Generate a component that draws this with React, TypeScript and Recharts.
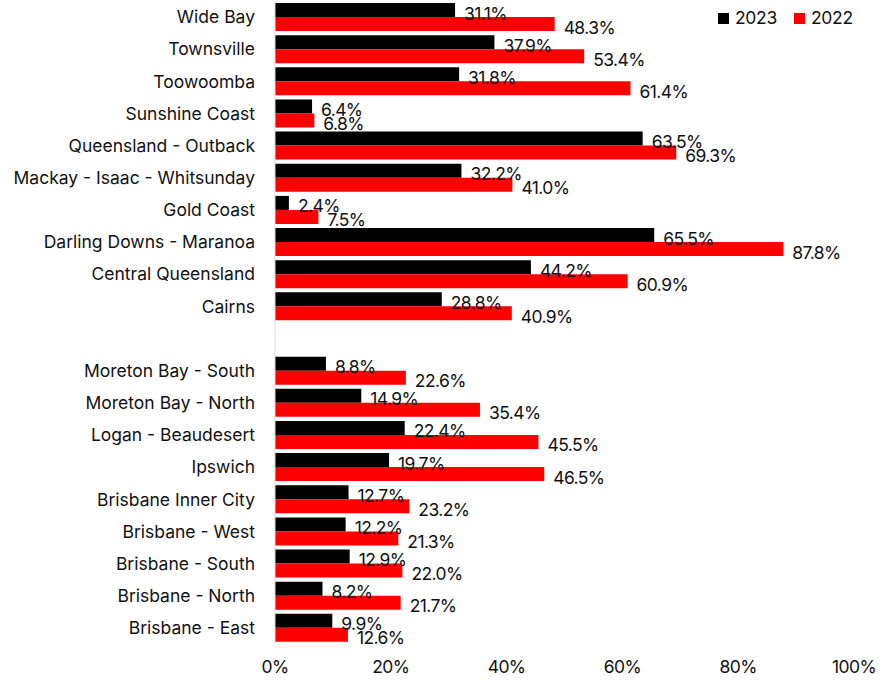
import { BarChart, Bar, XAxis, YAxis, LabelList } from 'recharts'

const regions = [
  'Wide Bay',
  'Townsville',
  'Toowoomba',
  'Sunshine Coast',
  'Queensland - Outback',
  'Mackay - Isaac - Whitsunday',
  'Gold Coast',
  'Darling Downs - Maranoa',
  'Central Queensland',
  'Cairns',
  '',
  'Moreton Bay - South',
  'Moreton Bay - North',
  'Logan - Beaudesert',
  'Ipswich',
  'Brisbane Inner City',
  'Brisbane - West',
  'Brisbane - South',
  'Brisbane - North',
  'Brisbane - East',
]

const values2023 = [
  31.1, 37.9, 31.8, 6.4, 63.5, 32.2, 2.4, 65.5, 44.2, 28.8, null,
  8.8, 14.9, 22.4, 19.7, 12.7, 12.2, 12.9, 8.2, 9.9,
]

const values2022 = [
  48.3, 53.4, 61.4, 6.8, 69.3, 41.0, 7.5, 87.8, 60.9, 40.9, null,
  22.6, 35.4, 45.5, 46.5, 23.2, 21.3, 22.0, 21.7, 12.6,
]

const xTicks = [0, 20, 40, 60, 80, 100]

const legendItems = [
  { label: '2023', color: '#000000' },
  { label: '2022', color: '#ff0000' },
]

const FONT = 'Inter, "Noto Sans", sans-serif'
const FS = 17.5

const chartData = regions.map((name, i) => ({
  name,
  y2023: values2023[i],
  y2022: values2022[i],
}))

function ValueLabel(props: any) {
  const { x, y, width, height, value } = props
  if (value == null) return null
  return (
    <text
      x={x + width + 9}
      y={y + height / 2 + 3}
      dominantBaseline="central"
      fontSize={FS}
      fontFamily={FONT}
      letterSpacing={-0.6}
      fill="#111"
    >
      {value.toFixed(1)}%
    </text>
  )
}

export default function App() {
  return (
    <div style={{ position: 'absolute', left: 0, top: 0, width: 889, height: 680, background: '#fff' }}>
      <BarChart
        width={889}
        height={680}
        data={chartData}
        layout="vertical"
        margin={{ top: 1, right: 35, bottom: 6, left: 0 }}
        barCategoryGap={2}
        barGap={0}
      >
        <XAxis
          type="number"
          domain={[0, 100]}
          ticks={xTicks}
          tickFormatter={(v: number) => `${v}%`}
          axisLine={false}
          tickLine={false}
          tickSize={0}
          tickMargin={17}
          height={30}
          tick={{ fontSize: FS, fontFamily: FONT, fill: '#111', letterSpacing: -0.6 }}
          interval={0}
        />
        <YAxis
          type="category"
          dataKey="name"
          width={275}
          axisLine={{ stroke: '#d9d9d9' }}
          tickLine={false}
          tickSize={0}
          tickMargin={20}
          interval={0}
          tick={{ fontSize: FS, fontFamily: FONT, fill: '#111' }}
        />
        <Bar dataKey="y2023" name="2023" fill="#000000" isAnimationActive={false}>
          <LabelList dataKey="y2023" content={<ValueLabel />} />
        </Bar>
        <Bar dataKey="y2022" name="2022" fill="#ff0000" isAnimationActive={false}>
          <LabelList dataKey="y2022" content={<ValueLabel />} />
        </Bar>
      </BarChart>
      <div
        style={{
          position: 'absolute',
          top: 7,
          left: 718,
          display: 'flex',
          gap: 17,
          fontFamily: FONT,
          fontSize: FS,
          letterSpacing: -0.3,
          color: '#111',
          lineHeight: '22px',
        }}
      >
        {legendItems.map((it) => (
          <div key={it.label} style={{ display: 'flex', alignItems: 'center', gap: 6 }}>
            <span style={{ width: 11, height: 11, background: it.color, display: 'inline-block' }} />
            <span>{it.label}</span>
          </div>
        ))}
      </div>
    </div>
  )
}
